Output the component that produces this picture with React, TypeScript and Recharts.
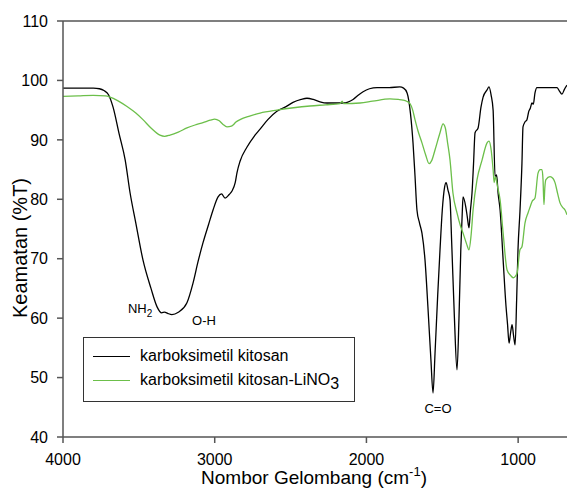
import { LineChart, Line, XAxis, YAxis, ReferenceLine, ReferenceDot, Label } from "recharts";

const FONT = "'Liberation Sans', Arial, sans-serif";

// karboksimetil kitosan
const blackWave = [4000, 3900, 3800, 3760, 3730, 3700, 3670, 3630, 3590, 3558, 3520, 3473, 3420, 3380, 3350, 3330, 3310, 3282, 3240, 3183, 3143, 3110, 3077, 3040, 3011, 2978, 2955, 2932, 2905, 2886, 2865, 2853, 2833, 2787, 2740, 2701, 2650, 2590, 2530, 2484, 2430, 2392, 2350, 2306, 2260, 2220, 2154, 2088, 2050, 2022, 1980, 1930, 1850, 1780, 1755, 1732, 1710, 1693, 1680, 1667, 1650, 1634, 1614, 1595, 1575, 1561, 1548, 1530, 1515, 1500, 1485, 1475, 1462, 1449, 1438, 1420, 1403, 1390, 1378, 1368, 1363, 1345, 1335, 1324, 1315, 1304, 1294, 1284, 1264, 1245, 1231, 1205, 1192, 1178, 1165, 1152, 1142, 1132, 1119, 1099, 1080, 1070, 1060, 1050, 1040, 1030, 1020, 1010, 1001, 988, 975, 968, 955, 942, 930, 920, 909, 900, 889, 876, 850, 800, 744, 730, 711, 695, 678];
const blackT = [98.7, 98.7, 98.7, 98.6, 98.3, 97.6, 95.5, 91, 86.6, 81.1, 76, 69.8, 65, 61.9, 60.9, 61.0, 60.8, 60.6, 61.0, 62.6, 65.9, 69.5, 72.7, 75.8, 78.2, 80.4, 80.9, 80.2, 80.8, 81.4, 82.8, 84.5, 86.4, 88.8, 90.6, 91.8, 93.4, 94.8, 95.6, 96.3, 96.8, 97.0, 96.8, 96.4, 96.2, 96.2, 96.2, 96.8, 97.6, 98.1, 98.6, 98.8, 98.8, 98.9, 98.7, 97.9, 94.5, 89.5, 84, 78.2, 76, 74.3, 69.8, 62, 53, 47.4, 54, 64, 71.5, 78.2, 82, 82.8, 81.5, 79.9, 72.7, 60, 51.3, 60, 71.5, 78, 80.4, 78.7, 77, 75.2, 78, 81.1, 86, 91.2, 92.0, 95.5, 97.2, 98.4, 98.9, 97.5, 95.0, 83.8, 84.1, 81, 78.2, 69.8, 62, 59, 55.8, 57.5, 58.9, 57, 55.5, 63, 71.5, 78, 86, 92.2, 93.0, 93.4, 94.8, 95.3, 96.2, 96.0, 97.9, 98.8, 98.8, 98.8, 98.8, 98.3, 97.7, 98.5, 99.2];

// karboksimetil kitosan-LiNO3
const greenWave = [4000, 3900, 3800, 3720, 3690, 3640, 3578, 3520, 3473, 3420, 3361, 3330, 3295, 3240, 3183, 3130, 3077, 3030, 3000, 2970, 2945, 2919, 2890, 2879, 2860, 2833, 2770, 2701, 2590, 2480, 2372, 2270, 2174, 2160, 2150, 2042, 1960, 1845, 1790, 1759, 1735, 1713, 1695, 1680, 1660, 1634, 1610, 1587, 1570, 1548, 1515, 1495, 1480, 1465, 1449, 1430, 1403, 1380, 1363, 1340, 1324, 1310, 1297, 1271, 1238, 1205, 1192, 1180, 1165, 1158, 1150, 1135, 1119, 1099, 1073, 1050, 1033, 1020, 1007, 988, 975, 955, 935, 920, 909, 889, 869, 855, 843, 836, 830, 824, 817, 790, 770, 757, 740, 724, 705, 691, 678];
const greenT = [97.3, 97.4, 97.5, 97.4, 97.2, 96.6, 95.6, 94.5, 93.4, 92.0, 90.8, 90.6, 90.8, 91.3, 92.0, 92.5, 92.9, 93.3, 93.5, 93.2, 92.6, 92.2, 92.3, 92.5, 93.0, 93.4, 94.0, 94.5, 95.0, 95.4, 95.7, 95.9, 96.1, 96.5, 96.1, 96.2, 96.5, 96.9, 96.8, 96.7, 96.5, 96.1, 95, 93.4, 91.5, 89.5, 87.5, 86.0, 86.5, 88.3, 91.2, 92.7, 92, 89.5, 86.6, 81.1, 77.7, 75.5, 74.3, 72.5, 71.5, 74, 78.2, 83.3, 86.6, 89.5, 89.8, 88.7, 85.0, 82.8, 83.8, 82, 79.9, 74.3, 68.1, 67.2, 66.8, 67.0, 67.6, 71.5, 72.0, 76.0, 77.7, 78.8, 79.6, 80.2, 84.4, 85.0, 85.0, 83.3, 79.1, 82.0, 83.3, 83.8, 83.5, 82.8, 81, 79.4, 78.6, 78.2, 77.4];

const xTicks = [4000, 3000, 2000, 1000];
const yTicks = [40, 50, 60, 70, 80, 90, 100, 110];

const blackData = blackWave.map((w, i) => ({ w, t: blackT[i] }));
const greenData = greenWave.map((w, i) => ({ w, t: greenT[i] }));

const GREEN = "#6cbf4a";
const AXIS = "#555";

const LegendBox = () => (
  <div
    style={{
      position: "absolute",
      left: 83,
      top: 337,
      border: "1px solid #333",
      width: 272,
      height: 65,
      boxSizing: "border-box",
      fontFamily: FONT,
      fontSize: 16,
      color: "#000",
      background: "#fff",
      paddingTop: 7,
    }}
  >
    <div style={{ display: "flex", alignItems: "center", height: 22 }}>
      <span style={{ display: "inline-block", width: 37, height: 0, borderTop: "1.3px solid #000", marginLeft: 9, marginRight: 10 }} />
      <span>karboksimetil kitosan</span>
    </div>
    <div style={{ display: "flex", alignItems: "center", height: 26 }}>
      <span style={{ display: "inline-block", width: 37, height: 0, borderTop: "1.3px solid " + GREEN, marginLeft: 9, marginRight: 10 }} />
      <span>
        karboksimetil kitosan-LiNO<span style={{ position: "relative", top: 4 }}>3</span>
      </span>
    </div>
  </div>
);

const textStyle = { fontFamily: FONT, fontSize: 13, fill: "#000" };

export default function App() {
  return (
    <div style={{ position: "absolute", left: 0, top: 0, width: 567, height: 489, background: "#fff" }}>
      <LineChart width={567} height={489} margin={{ top: 21, right: 0, bottom: 0, left: 0 }}>
        <XAxis
          type="number"
          dataKey="w"
          domain={[678, 4000]}
          reversed
          allowDataOverflow
          ticks={xTicks}
          height={52}
          stroke={AXIS}
          strokeWidth={1.5}
          tickSize={6}
          tickMargin={11}
          tick={{ fill: "#000", fontSize: 16, fontFamily: FONT }}
        >
          <Label
            content={() => (
              <text x={314} y={484} textAnchor="middle" style={{ fontFamily: FONT, fontSize: 19, fill: "#000" }}>
                Nombor Gelombang (cm
                <tspan fontSize={13} dy={-8}>-1</tspan>
                <tspan dy={8}>)</tspan>
              </text>
            )}
          />
        </XAxis>
        <YAxis
          type="number"
          domain={[40, 110]}
          ticks={yTicks}
          width={63}
          stroke={AXIS}
          strokeWidth={1.5}
          tickSize={6}
          tickMargin={9}
          tick={{ fill: "#000", fontSize: 16, fontFamily: FONT }}
        >
          <Label
            content={() => (
              <text
                x={27}
                y={248}
                textAnchor="middle"
                transform="rotate(-90 27 248)"
                style={{ fontFamily: FONT, fontSize: 20, fill: "#000" }}
              >
                Keamatan (%T)
              </text>
            )}
          />
        </YAxis>
        <ReferenceLine y={110} stroke={AXIS} strokeWidth={1.5} />
        <Line
          data={blackData}
          dataKey="t"
          type="monotone"
          stroke="#000"
          strokeWidth={1.3}
          dot={false}
          isAnimationActive={false}
        />
        <Line
          data={greenData}
          dataKey="t"
          type="monotone"
          stroke={GREEN}
          strokeWidth={1.3}
          dot={false}
          isAnimationActive={false}
        />
        <ReferenceDot
          x={3492}
          y={61.7}
          r={0}
          shape={(p: any) => (
            <text x={p.cx} y={p.cy + 5} textAnchor="middle" style={textStyle}>
              NH<tspan fontSize={10} dy={4}>2</tspan>
            </text>
          )}
        />
        <ReferenceDot
          x={3071}
          y={59.7}
          r={0}
          shape={(p: any) => (
            <text x={p.cx} y={p.cy + 5} textAnchor="middle" style={textStyle}>
              O-H
            </text>
          )}
        />
        <ReferenceDot
          x={1528}
          y={44.9}
          r={0}
          shape={(p: any) => (
            <text x={p.cx} y={p.cy + 5} textAnchor="middle" style={textStyle}>
              C=O
            </text>
          )}
        />
      </LineChart>
      <LegendBox />
    </div>
  );
}
